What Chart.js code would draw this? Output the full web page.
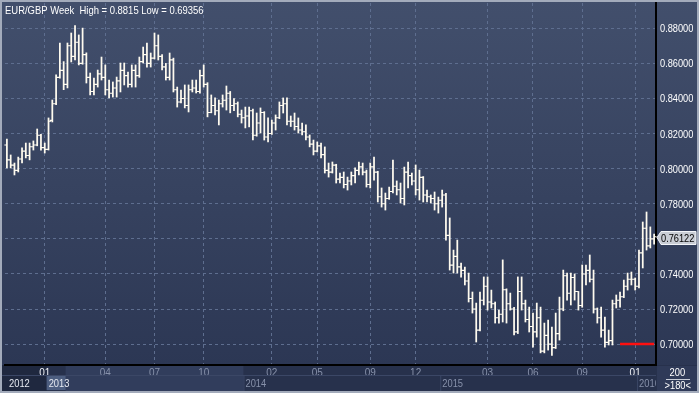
<!DOCTYPE html>
<html>
<head>
<meta charset="utf-8">
<script src="https://cdn.jsdelivr.net/npm/chart.js@4.4.1/dist/chart.umd.min.js"></script>
<style>
  html, body { margin: 0; padding: 0; background: #2b3653; }
  #wrap { width: 699px; height: 393px; }
</style>
</head>
<body>
<div id="wrap"><canvas id="chart" width="699" height="393"></canvas></div>
<script>
// weekly EUR/GBP, mid Oct 2012 .. late Jan 2016
const opens = [
  .8135,.8050,.8020,.7990,.8055,.8100,.8075,.8125,.8135,.8190,.8120,.8110,.8275,.8370,.8520,.8560,.8480,.8700,.8640,.8720,
  .8600,.8650,.8520,.8440,.8480,.8540,.8520,.8450,.8430,.8460,.8500,.8560,.8530,.8480,.8560,.8530,.8610,.8650,.8600,.8630,
  .8700,.8640,.8580,.8520,.8620,.8450,.8380,.8400,.8360,.8450,.8460,.8440,.8530,.8480,.8320,.8360,.8330,.8370,.8390,.8430,
  .8360,.8370,.8310,.8290,.8300,.8330,.8190,.8260,.8320,.8180,.8200,.8260,.8290,.8360,.8370,.8270,.8270,.8240,.8220,.8210,
  .8180,.8140,.8100,.8130,.8080,.7990,.7980,.8020,.7940,.7950,.7910,.7930,.7960,.7990,.8010,.7980,.7910,.8010,.7980,.7840,
  .7800,.7830,.7870,.7900,.7880,.7830,.7980,.7960,.7930,.7880,.7950,.7850,.7840,.7830,.7800,.7820,.7850,.7620,.7450,.7500,
  .7440,.7420,.7360,.7260,.7200,.7080,.7250,.7330,.7240,.7230,.7150,.7170,.7310,.7230,.7200,.7070,.7300,.7230,.7140,.7100,
  .7070,.7150,.6960,.7050,.7000,.6980,.7060,.7200,.7390,.7290,.7380,.7300,.7220,.7400,.7420,.7370,.7200,.7150,.7080,.7010,
  .7020,.7230,.7250,.7270,.7330,.7370,.7370,.7330,.7520,.7660,.7560,.7600
];
const highs = [
  .8169,.8078,.8032,.8066,.8118,.8146,.8146,.8158,.8226,.8195,.8146,.8289,.8391,.8534,.8716,.8610,.8716,.8773,.8815,.8762,
  .8801,.8660,.8545,.8516,.8562,.8636,.8591,.8505,.8494,.8522,.8602,.8602,.8551,.8591,.8591,.8636,.8693,.8716,.8659,.8773,
  .8762,.8650,.8600,.8659,.8630,.8465,.8448,.8477,.8477,.8505,.8505,.8562,.8591,.8490,.8420,.8403,.8391,.8420,.8471,.8440,
  .8400,.8380,.8334,.8351,.8351,.8340,.8317,.8346,.8325,.8289,.8277,.8306,.8380,.8403,.8403,.8300,.8317,.8289,.8260,.8249,
  .8192,.8163,.8152,.8146,.8124,.8032,.8038,.8025,.7975,.7981,.7952,.7981,.8004,.8038,.8032,.7992,.8032,.8066,.7985,.7890,
  .7861,.7895,.8049,.7930,.7918,.8009,.8038,.7975,.8021,.7992,.7955,.7878,.7850,.7867,.7838,.7878,.7860,.7719,.7536,.7593,
  .7462,.7439,.7405,.7297,.7234,.7297,.7383,.7383,.7308,.7240,.7194,.7480,.7315,.7291,.7210,.7383,.7383,.7251,.7211,.7177,
  .7234,.7211,.7120,.7137,.7097,.7177,.7268,.7422,.7405,.7405,.7400,.7300,.7451,.7451,.7508,.7422,.7206,.7211,.7154,.7080,
  .7251,.7280,.7297,.7365,.7405,.7411,.7377,.7536,.7696,.7753,.7668,.7627
];
const lows = [
  .8004,.8004,.7964,.7981,.8032,.8061,.8050,.8106,.8130,.8106,.8089,.8106,.8266,.8365,.8515,.8450,.8460,.8608,.8619,.8591,
  .8595,.8488,.8420,.8420,.8465,.8505,.8420,.8403,.8408,.8408,.8437,.8477,.8465,.8465,.8465,.8520,.8602,.8579,.8579,.8625,
  .8619,.8562,.8505,.8505,.8437,.8351,.8374,.8346,.8323,.8437,.8431,.8430,.8465,.8295,.8318,.8306,.8249,.8351,.8334,.8318,
  .8330,.8295,.8260,.8232,.8238,.8163,.8185,.8203,.8163,.8152,.8195,.8220,.8285,.8317,.8249,.8240,.8220,.8203,.8192,.8163,
  .8124,.8078,.8095,.8061,.7975,.7952,.7975,.7918,.7918,.7890,.7878,.7907,.7918,.7964,.7964,.7895,.7890,.7935,.7810,.7781,
  .7764,.7825,.7861,.7850,.7804,.7793,.7890,.7907,.7850,.7821,.7810,.7810,.7804,.7764,.7747,.7781,.7593,.7422,.7405,.7405,
  .7382,.7337,.7240,.7177,.7012,.7075,.7223,.7194,.7206,.7120,.7120,.7126,.7120,.7194,.7052,.7060,.7194,.7126,.7069,.6983,
  .7040,.6950,.6950,.6966,.6936,.6975,.7023,.7190,.7251,.7223,.7251,.7194,.7210,.7337,.7354,.7177,.7120,.7040,.6983,.6995,
  .6995,.7206,.7211,.7265,.7308,.7337,.7308,.7320,.7434,.7536,.7548,.7570
];
const closes = [
  .8050,.8020,.7990,.8055,.8100,.8075,.8125,.8135,.8190,.8120,.8110,.8270,.8370,.8520,.8560,.8480,.8700,.8640,.8720,.8600,
  .8650,.8520,.8440,.8480,.8540,.8520,.8450,.8430,.8460,.8500,.8560,.8530,.8480,.8560,.8530,.8610,.8650,.8600,.8630,.8700,
  .8640,.8580,.8520,.8620,.8450,.8380,.8400,.8360,.8450,.8460,.8440,.8530,.8480,.8320,.8360,.8330,.8370,.8390,.8430,.8360,
  .8370,.8310,.8290,.8300,.8330,.8190,.8260,.8320,.8180,.8200,.8260,.8290,.8360,.8370,.8270,.8270,.8240,.8220,.8210,.8180,
  .8140,.8100,.8130,.8080,.7990,.7980,.8020,.7940,.7950,.7910,.7930,.7960,.7990,.8010,.7980,.7910,.8010,.7980,.7840,.7800,
  .7830,.7870,.7900,.7880,.7830,.7980,.7960,.7930,.7880,.7950,.7850,.7840,.7830,.7800,.7820,.7850,.7620,.7450,.7500,.7440,
  .7420,.7360,.7260,.7200,.7080,.7250,.7330,.7240,.7230,.7150,.7170,.7310,.7230,.7200,.7070,.7300,.7230,.7140,.7100,.7070,
  .7150,.6960,.7050,.7000,.6980,.7060,.7200,.7390,.7290,.7380,.7300,.7220,.7400,.7420,.7370,.7200,.7150,.7080,.7010,.7020,
  .7230,.7250,.7270,.7330,.7370,.7370,.7330,.7520,.7660,.7560,.7600,.76122
];

// axis labels
const monthIdx  = [10, 26, 39, 52, 70, 82, 96, 108, 127, 139, 152, 166];
const monthText = ['01','04','07','10','02','05','09','12','03','06','09','01'];
const yearStart = [11, 63, 115, 167];           // first week of each year
const yearText  = ['2012', '2013', '2014', '2015', '2016'];
const yTicks = [0.70, 0.72, 0.74, 0.76, 0.78, 0.80, 0.82, 0.84, 0.86, 0.88];

const alertLevel = 0.70;
const alertFrom = 162;

const N = closes.length;
const weeks = closes.map((c, i) => i);
const gridCol = '#5e6e8f';
const sans = "'Liberation Sans', Arial, sans-serif";
const barCol = '#fffbef';

// squeezed text, the original uses a narrow bitmap font
function narrowText(ctx, txt, x, y, sx) {
  ctx.save();
  ctx.translate(x, y);
  ctx.scale(sx, 1);
  ctx.fillText(txt, 0, 0);
  ctx.restore();
}

// background, panels
const bgPlugin = {
  id: 'bg',
  beforeDraw(chart) {
    const ctx = chart.ctx, a = chart.chartArea;
    const g = ctx.createLinearGradient(0, 0, 0, a.bottom);
    g.addColorStop(0, '#424f6c');
    g.addColorStop(1, '#2c3754');
    ctx.save();
    ctx.fillStyle = g;
    ctx.fillRect(0, 0, chart.width, a.bottom);
    ctx.fillStyle = '#27314c';
    ctx.fillRect(0, a.bottom, chart.width, chart.height - a.bottom);
    const xs = chart.scales.x;
    const w = xs.getPixelForValue(1) - xs.getPixelForValue(0);
    const b13 = xs.getPixelForValue(yearStart[0]) - w / 2;
    const b14 = xs.getPixelForValue(yearStart[1]) - w / 2;
    ctx.fillStyle = '#1f283f';
    ctx.fillRect(0, a.bottom, b13, chart.height - a.bottom);
    ctx.fillStyle = '#313d5c';
    ctx.fillRect(b13 + 19, a.bottom, b14 - b13 - 19, chart.height - a.bottom);
    ctx.restore();
  }
};

// open / close ticks of the weekly bars
const ohlcPlugin = {
  id: 'ohlc',
  afterDatasetsDraw(chart) {
    const ctx = chart.ctx, xs = chart.scales.x, ys = chart.scales.y;
    ctx.save();
    ctx.strokeStyle = barCol;
    ctx.lineWidth = 1.1;
    ctx.beginPath();
    for (let i = 0; i < N; i++) {
      const x = xs.getPixelForValue(i);
      const yo = ys.getPixelForValue(opens[i]);
      const yc = ys.getPixelForValue(closes[i]);
      ctx.moveTo(x - 2.5, yo); ctx.lineTo(x, yo);
      ctx.moveTo(x, yc); ctx.lineTo(x + 2.5, yc);
    }
    ctx.stroke();
    ctx.restore();
  }
};

// title, y labels, years, price box, frame
const overlayPlugin = {
  id: 'overlay',
  afterDraw(chart) {
    const ctx = chart.ctx, a = chart.chartArea, xs = chart.scales.x, ys = chart.scales.y;
    const W = chart.width, H = chart.height;
    ctx.save();
    ctx.textBaseline = 'middle';
    ctx.font = '11px ' + sans;
    ctx.fillStyle = '#ffffff';
    narrowText(ctx, 'EUR/GBP Week  High = ' + Math.max(...highs) + ' Low = 0.69356', 5, 11, 0.86);

    // y labels
    yTicks.forEach(v => narrowText(ctx, v.toFixed(5), a.right + 4, ys.getPixelForValue(v) + 1, 0.84));

    // year row
    const w = xs.getPixelForValue(1) - xs.getPixelForValue(0);
    const yRow = H - 9;
    ctx.strokeStyle = '#3b4766';
    ctx.lineWidth = 1;
    ctx.beginPath();
    ctx.moveTo(0, H - 17.5); ctx.lineTo(a.right, H - 17.5);
    ctx.stroke();
    ctx.font = '11px ' + sans;
    ctx.fillStyle = '#e6eaf2';
    narrowText(ctx, yearText[0], a.left + 4, yRow, 0.85);
    yearStart.forEach((s, k) => {
      const bx = xs.getPixelForValue(s) - w / 2;
      if (k === 0) {
        ctx.fillStyle = '#4d5e80';
        ctx.fillRect(bx, H - 17, 19, 14);
        ctx.fillStyle = '#e6eaf2';
      } else {
        ctx.strokeStyle = '#3b4766';
        ctx.beginPath();
        ctx.moveTo(bx + 0.5, H - 17); ctx.lineTo(bx + 0.5, H - 2);
        ctx.stroke();
        ctx.fillStyle = '#8791aa';
      }
      ctx.save();
      ctx.beginPath();
      ctx.rect(0, a.bottom, a.right, H - a.bottom);
      ctx.clip();
      narrowText(ctx, yearText[k + 1], bx + 2, yRow, 0.85);
      ctx.restore();
    });

    // right bottom corner box
    ctx.fillStyle = '#2f3a58';
    ctx.fillRect(a.right + 1, a.bottom + 1, W - a.right - 3, H - a.bottom - 3);
    ctx.fillStyle = '#ffffff';
    const cx = (a.right + W) / 2;
    narrowText(ctx, '200', cx - 8, a.bottom + 8, 0.85);
    ctx.strokeStyle = '#c8cdd8';
    ctx.beginPath();
    ctx.moveTo(a.right + 10, a.bottom + 14.5); ctx.lineTo(W - 9, a.bottom + 14.5);
    ctx.stroke();
    narrowText(ctx, '>180<', cx - 13, a.bottom + 21, 0.85);

    // last price box
    const last = closes[N - 1];
    const py = Math.round(ys.getPixelForValue(last)) + 0.5;
    ctx.fillStyle = '#c9cdd5';
    ctx.strokeStyle = '#f2f4f8';
    ctx.beginPath();
    ctx.moveTo(a.right + 1, py);
    ctx.lineTo(a.right + 5, py - 6);
    ctx.lineTo(W - 3, py - 6);
    ctx.lineTo(W - 3, py + 7);
    ctx.lineTo(a.right + 5, py + 7);
    ctx.closePath();
    ctx.fill();
    ctx.stroke();
    ctx.fillStyle = '#000000';
    narrowText(ctx, last.toFixed(5), a.right + 5, py + 1, 0.84);

    // frame
    ctx.strokeStyle = '#a3abbb';
    ctx.lineWidth = 2;
    ctx.strokeRect(1, 1, W - 2, H - 2);
    ctx.restore();
  }
};

new Chart(document.getElementById('chart'), {
  type: 'bar',
  data: {
    labels: weeks,
    datasets: [
      {
        type: 'bar',
        data: lows.map((l, i) => [l, highs[i]]),
        backgroundColor: barCol,
        borderWidth: 0,
        barThickness: 1.1,
        grouped: false
      },
      {
        type: 'line',
        data: weeks.map(i => i >= alertFrom ? alertLevel : null),
        borderColor: '#ff1010',
        borderWidth: 2.5,
        pointRadius: 0,
        spanGaps: false
      }
    ]
  },
  options: {
    responsive: false,
    animation: false,
    layout: { padding: { left: 5, top: 3, right: 0, bottom: 0 } },
    plugins: { legend: { display: false }, tooltip: { enabled: false } },
    scales: {
      x: {
        type: 'category',
        offset: true,
        afterFit(s) { s.height = 28; s.paddingLeft = 0; s.paddingRight = 0; },
        grid: {
          offset: false,
          drawTicks: false,
          lineWidth: 1,
          color: ctx => monthIdx.includes(ctx.index) ? gridCol : 'rgba(0,0,0,0)'
        },
        border: { display: true, color: '#000000', width: 2, dash: [3, 3] },
        ticks: {
          autoSkip: false,
          maxRotation: 0,
          padding: 2,
          font: { family: sans, size: 10 },
          color: ctx => {
            const k = monthIdx.indexOf(ctx.index);
            return k >= 0 && monthText[k] === '01' ? '#f0f2f7' : '#8791aa';
          },
          callback: (v, i) => {
            const k = monthIdx.indexOf(i);
            return k >= 0 ? monthText[k] : '';
          }
        }
      },
      y: {
        position: 'right',
        min: 0.6881,
        max: 0.8944,
        afterFit(s) { s.width = 43; s.paddingTop = 0; s.paddingBottom = 0; },
        afterBuildTicks(s) { s.ticks = yTicks.map(v => ({ value: v })); },
        grid: { color: gridCol, drawTicks: false, lineWidth: 1 },
        border: { display: true, color: '#000000', width: 2, dash: [3, 3] },
        ticks: { display: false }
      }
    }
  },
  plugins: [bgPlugin, ohlcPlugin, overlayPlugin]
});
</script>
</body>
</html>
